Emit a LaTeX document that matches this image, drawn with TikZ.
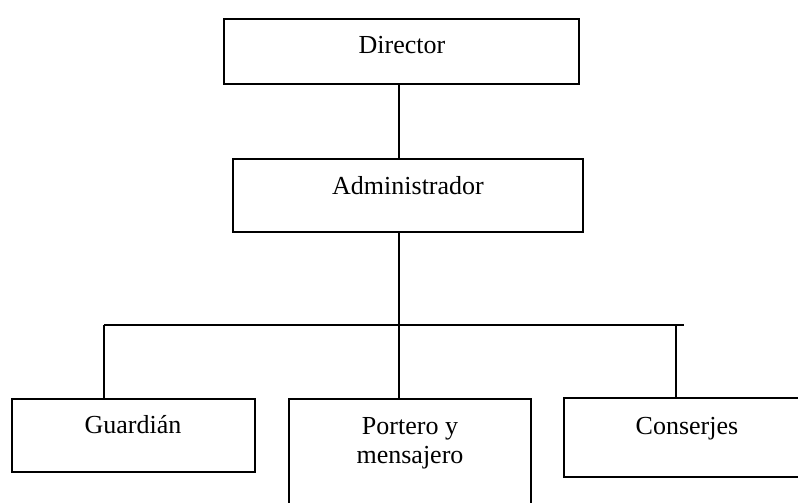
\documentclass[tikz,border=0pt]{standalone}
\usepackage{fontspec}
\setmainfont{Liberation Serif}
\begin{document}
\begin{tikzpicture}[x=1pt,y=-1pt,
  box/.style={draw=black,line width=1.3pt,rectangle,inner sep=0pt},
  wire/.style={draw=black,line width=1.3pt},
  lbl/.style={anchor=base,inner sep=0pt,font=\fontsize{26}{29}\selectfont,align=center}]
\useasboundingbox (0,0) rectangle (798,503);
\clip (0,0) rectangle (798,503);

% boxes of the chart
\node[box,minimum width=355pt,minimum height=65pt] (dir) at (401.5,51.5) {};
\node[box,minimum width=350pt,minimum height=73pt] (adm) at (408,195.5) {};
\node[box,minimum width=243pt,minimum height=73pt] (gua) at (133.5,435.5) {};
\node[box,minimum width=242pt,minimum height=141pt] (por) at (410,469.5) {};
\node[box,minimum width=248pt,minimum height=79pt] (con) at (688,437.5) {};

% box labels (a two-line label sits on the baseline of its last line)
\node[lbl] (tdir) at (402,54) {Director};
\node[lbl] (tadm) at (408,194) {Administrador};
\node[lbl] (tgua) at (133,433) {Guardián};
\node[lbl] (tpor) at (410,463) {Portero y\\mensajero};
\node[lbl] (tcon) at (687,434) {Conserjes};

% connector lines
\coordinate (trunk) at (399,325);
\coordinate (busL) at (104,325);
\coordinate (busR) at (684,325);
\coordinate (drop) at (676,325);
\draw[wire] (dir.south -| trunk) -- (adm.north -| trunk);
\draw[wire] (adm.south -| trunk) -- (trunk);
\draw[wire] (busL) -- (busR);
\draw[wire] (busL) -- (gua.north -| busL);
\draw[wire] (trunk) -- (por.north -| trunk);
\draw[wire] (drop) -- (con.north -| drop);
\end{tikzpicture}
\end{document}
